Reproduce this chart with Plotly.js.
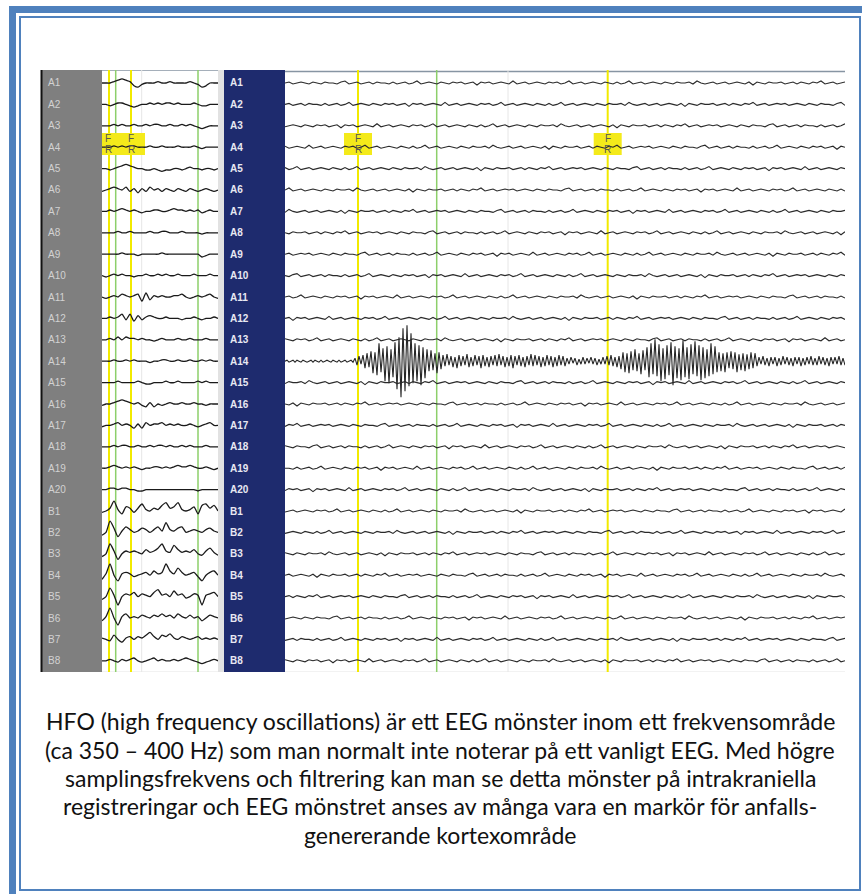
<!DOCTYPE html>
<html><head><meta charset="utf-8">
<script src="https://cdn.plot.ly/plotly-3.0.1.min.js"></script>
<style>html,body{margin:0;padding:0;background:#fff}#chart{width:862px;height:894px}</style>
</head><body><div id="chart"></div>
<script>
// ---- channel names ----
const channels = ['A1','A2','A3','A4','A5','A6','A7','A8','A9','A10','A11','A12','A13','A14','A15','A16','A17','A18','A19','A20','B1','B2','B3','B4','B5','B6','B7','B8'];

// ---- left (overview) panel, A channels, amplitude per sample ----
const leftA = [
 [0,0,0,1,2,3,2,1,-2,-3,-1,0,0,0,1,0,0,1,0,0,0,0,1,0,-1,-3,-2,0,0,0],
 [0,0,-1,0,1,1,0,-1,-2,-1,0,0,1,0,1,0,1,1,0,1,0,0,0,1,0,-1,-1,0,0,0],
 [0,0,0,1,0,1,0,0,1,0,0,1,0,1,1,0,0,1,0,0,1,0,1,0,-1,-2,-1,0,0,0],
 [0,0,0,1,0,1,0,1,1,0,0,0,1,0,0,1,0,0,0,1,0,0,0,1,0,-1,0,0,0,0],
 [0,0,-1,0,1,2,3,2,1,0,0,-1,-1,0,-1,-2,-1,-1,0,0,-1,0,1,0,0,-1,0,0,-1,0],
 [-1,0,1,2,1,0,2,-1,1,-2,1,-1,2,0,1,-1,1,0,-1,1,0,-1,1,0,-1,0,1,0,-1,0],
 [0,0,1,0,1,2,1,0,1,0,-1,0,0,1,1,0,0,1,2,1,1,0,1,0,1,-1,0,1,0,0],
 [0,0,0,0,1,0,0,1,0,0,0,0,1,0,0,1,1,0,0,0,1,0,0,0,0,-1,0,0,0,0],
 [0,0,0,0,0,1,0,0,0,-1,0,0,0,0,0,1,0,0,0,0,0,0,0,0,0,-2,-1,0,0,0],
 [0,-1,0,1,0,1,0,0,-1,0,0,1,0,0,1,0,1,0,0,1,0,0,0,1,0,0,0,1,0,0],
 [0,-1,0,1,0,2,1,0,1,2,-3,3,-2,1,0,1,0,0,1,1,2,0,-1,0,1,0,1,2,0,-1],
 [0,0,1,0,1,3,-1,3,-2,2,-1,1,2,1,0,0,1,0,0,0,-1,0,0,1,0,-1,0,0,1,0],
 [0,0,1,0,2,0,2,1,1,0,1,0,0,-1,0,1,0,0,0,1,0,0,1,0,0,0,1,0,0,0],
 [0,0,0,1,0,0,1,0,1,0,0,0,-1,0,0,1,1,0,0,1,0,0,1,0,0,1,0,1,0,0],
 [0,0,0,0,1,0,0,0,0,1,0,-1,-1,0,0,0,1,0,0,1,0,0,0,0,1,0,1,0,0,0],
 [-1,0,0,1,2,3,2,1,0,1,-1,-2,1,-2,0,-1,0,1,0,0,1,0,0,1,0,0,-1,0,0,0],
 [-1,0,0,1,2,0,1,0,-2,1,-2,2,0,1,1,2,0,1,0,1,0,0,1,0,-1,0,1,2,0,0],
 [0,0,0,1,0,1,1,0,0,1,0,0,1,0,1,1,0,1,0,0,1,0,1,0,0,0,1,0,0,0],
 [0,0,1,2,1,0,1,0,1,0,-1,0,0,1,1,0,1,0,1,2,1,1,2,1,0,0,1,0,-1,0],
 [0,0,1,1,0,1,1,0,0,-1,-1,0,0,0,0,0,0,0,0,0,0,0,0,0,-1,0,0,0,0,0]
];
// ---- left panel, B channels ----
const leftB = [
 [-1,0,2,7,1,-2,3,2,-1,2,5,1,0,2,1,4,6,2,3,6,1,0,1,3,-2,4,5,2,4,0],
 [-2,0,8,3,-3,1,4,2,0,1,3,2,0,2,4,1,7,2,1,3,4,0,1,2,1,0,2,3,1,0],
 [-2,0,7,2,-4,0,2,1,2,1,0,3,1,2,4,7,2,1,6,3,1,2,1,3,0,-1,2,4,1,-1],
 [-3,1,8,0,-4,1,2,1,-1,0,1,2,0,3,1,2,8,3,1,5,2,0,1,2,-1,-4,0,2,3,0],
 [-2,0,6,1,-6,0,2,1,3,0,2,1,0,3,5,1,2,0,4,1,2,-1,0,2,1,-6,1,2,3,0],
 [-2,1,7,0,-5,1,3,0,1,0,2,1,0,2,1,3,1,2,0,3,1,0,2,0,1,-2,0,2,1,0],
 [1,0,-1,3,0,-2,1,2,0,2,1,3,5,2,0,3,2,4,1,0,2,1,0,1,2,0,1,0,1,0],
 [0,0,1,0,-1,1,0,1,2,0,-1,0,1,2,0,1,0,0,1,0,1,2,1,0,-1,-2,-1,0,1,0]
];

// ---- right (expanded) panel background activity ----
const rightNoise = [
 0,1,-1,0,1,0,-1,1,0,-1,
 1,0,0,-1,1,2,-1,0,1,-1,
 0,1,-1,1,0,0,-1,1,-1,0,
 1,-1,0,2,-1,0,1,0,-1,1,
 0,-1,1,0,1,-1,0,1,-2,1,
 0,1,-1,0,1,0,-1,2,-1,0,
 1,-1,0,1,0,-1,1,0,1,-1,
 0,2,-1,0,1,-1,0,1,0,-1,
 1,0,-1,1,-1,0,2,-1,0,1,
 -1,0,1,0,-1,1,0,-1,1,0,
 0,1,-1,2,0,-1,0,1,-1,0,
 1,-1,0,1,0,-1,1,-2,1,0,
 -1,1,0,0,1,-1,0,1,-1,1,
 0,-1,1,0,2,-1,0,1,-1,0,
 1
];
// ---- HFO on A14 (right panel) ----
const hfoA14 = [
 0,1,-1,0,1,-1,1,0,-1,1, 0,-1,0,1,-1,1,0,-1,1,-1, 0,1,0,-1,1,0,-1,1,-1,0, 1,-1,0,1,-1,
 3,-4,5,-3,6,-7,8,-6,
 10,-12,9,-14,18,-11,13,-20,15,-22,12,-16,19,
 -28,24,-36,33,-30,36,-25,28,
 -22,18,-20,16,-24,14,-17,
 12,-10,11,-9,8,-12,9,-8,
 6,-5,7,-4,5,-6,4,-7,6,-5, 5,-4,7,-6,4,-5,6,-4,5,-7, 6,-5,4,-6,5,-4,6,-5,7,-4, 5,-6,4,-5,6,-7,5,-4,6,-5, 4,-6,5,-4,7,-5,6,-4,5,-6, 4,-5,6,-4,5,-6,4,-5,6,-4, 5,-5,
 3,-3,4,-2,3,-4,2,-3,4,-3, 3,-2,4,-3,3,-4,2,-3,4,-3,
 5,-4,6,-5,4,-6,5,
 -8,9,-11,8,-12,10,-9,12,-10,8,-13,11,-9,
 14,-16,18,-13,22,-15,17,-20,13,-18, 16,-14,19,-24,15,-17,13,-19,21,-16, 14,-18,17,-13,20,-15,16,-19,14,-17, 12,-15,18,-13,15,
 -11,9,-10,8,-11,9,-7,10,-8,9, -11,7,-9,8,-10,7,-8,9,-7,8,
 -5,4,-3,5,-4,3,-5,4,-3,4, -5,3,-4,5,-3,4,-4,3,-5,4, -3,4,-5,3,-4,4,-3,5,-4,3, -4,5,-3,4,-4,3,-5,4,-3,4, -3,5,-4,3,-4
];

// ---- event markers (sample positions) ----
const leftYellow = [7, 29];
const leftGreen = [13.7, 96];
const leftGrid = [39.7];
const rightYellow = [73, 322.7];
const rightGreen = [151.7];
const rightGrid = [223];
const leftFR = [6, 29];
const rightFR = [73, 322.7];

// ---- caption ----
const caption = [
 'HFO (high frequency oscillations) är ett EEG mönster inom ett frekvensområde',
 '(ca 350 – 400 Hz) som man normalt inte noterar på ett vanligt EEG. Med högre',
 'samplingsfrekvens och filtrering kan man se detta mönster på intrakraniella',
 'registreringar och EEG mönstret anses av många vara en markör för anfalls-',
 'genererande kortexområde'
];

// ================= drawing =================
const W = 862, H = 894;
const rowPx = 21.4, row0Px = 83;
const X = px => px / W;
const Y = px => 1 - px / H;
const yTop = 1 + (70 - row0Px) / rowPx;
const yBot = 1 + (672 - row0Px) / rowPx;
const leftDt = 4, rightDt = 4, hfoDt = 2;
const leftGain = 1.4;   // display sensitivity of overview panel

const traces = [];
leftA.concat(leftB).forEach((sig, i) => {
  traces.push({type:'scatter', mode:'lines', xaxis:'x', yaxis:'y',
    x: sig.map((_, k) => k * leftDt), y: sig.map(v => i + 1 - v * leftGain / rowPx),
    line:{color:'#1a1a1a', width:1.3, shape:'spline', smoothing:0.6},
    hoverinfo:'skip', showlegend:false});
});
channels.forEach((ch, i) => {
  let xs, ys;
  if (ch === 'A14') {
    xs = hfoA14.map((_, k) => k * hfoDt);
    ys = hfoA14.map(v => i + 1 - v / rowPx);
  } else {
    const n = rightNoise.length, s = (i * 17) % n;
    const sig = rightNoise.map((_, k) => rightNoise[(k + s) % n]);
    xs = sig.map((_, k) => k * rightDt);
    ys = sig.map(v => i + 1 - v / rowPx);
  }
  traces.push({type:'scatter', mode:'lines', xaxis:'x2', yaxis:'y',
    x: xs, y: ys, line:{color: ch === 'A14' ? '#262626' : '#2a2a2a', width: ch === 'A14' ? 1.1 : 1.1},
    hoverinfo:'skip', showlegend:false});
});

const blue = '#4f81bd';
const shapes = [
  // page border
  {type:'rect', xref:'paper', yref:'paper', x0:X(9), x1:X(862), y0:Y(6), y1:Y(13), fillcolor:blue, line:{width:0}},
  {type:'rect', xref:'paper', yref:'paper', x0:X(9), x1:X(16), y0:Y(6), y1:Y(894), fillcolor:blue, line:{width:0}},
  {type:'rect', xref:'paper', yref:'paper', x0:X(20), x1:X(860), y0:Y(17), y1:Y(890), line:{color:blue, width:2}},
  // panels
  {type:'rect', xref:'paper', yref:'y', x0:X(41), x1:X(102), y0:yTop, y1:yBot, fillcolor:'#7f7f7f', line:{width:0}, layer:'below'},
  {type:'line', xref:'paper', yref:'y', x0:X(41.5), x1:X(41.5), y0:yTop, y1:yBot, line:{color:'#111', width:2}, layer:'below'},
  {type:'rect', xref:'paper', yref:'y', x0:X(218), x1:X(224), y0:yTop, y1:yBot, fillcolor:'#e2e2e2', line:{width:0}, layer:'below'},
  {type:'rect', xref:'paper', yref:'y', x0:X(224), x1:X(285), y0:yTop, y1:yBot, fillcolor:'#1e2b6e', line:{width:0}, layer:'below'},
  {type:'line', xref:'paper', yref:'y', x0:X(102), x1:X(218), y0:yTop, y1:yTop, line:{color:'#8795a3', width:1.5}, layer:'below'},
  {type:'line', xref:'paper', yref:'y', x0:X(285), x1:X(845), y0:yTop+0.07, y1:yTop+0.07, line:{color:'#8795a3', width:1.5}, layer:'below'},
  {type:'line', xref:'paper', yref:'y', x0:X(102), x1:X(218), y0:yBot, y1:yBot, line:{color:'#e4e4e4', width:1}, layer:'below'},
  {type:'line', xref:'paper', yref:'y', x0:X(285), x1:X(845), y0:yBot, y1:yBot, line:{color:'#e4e4e4', width:1}, layer:'below'}
];
leftGrid.forEach(v => shapes.push({type:'line', xref:'x', yref:'y', x0:v, x1:v, y0:yTop, y1:yBot, line:{color:'#e6e6e6', width:1}, layer:'below'}));
rightGrid.forEach(v => shapes.push({type:'line', xref:'x2', yref:'y', x0:v, x1:v, y0:yTop, y1:yBot, line:{color:'#e6e6e6', width:1}, layer:'below'}));
leftGreen.forEach(v => shapes.push({type:'line', xref:'x', yref:'y', x0:v, x1:v, y0:yTop, y1:yBot, line:{color:'#8dcf6a', width:1.5}, layer:'below'}));
rightGreen.forEach(v => shapes.push({type:'line', xref:'x2', yref:'y', x0:v, x1:v, y0:yTop, y1:yBot, line:{color:'#8dcf6a', width:1.5}, layer:'below'}));
leftYellow.forEach(v => shapes.push({type:'line', xref:'x', yref:'y', x0:v, x1:v, y0:yTop, y1:yBot, line:{color:'#f2ea00', width:2}, layer:'below'}));
rightYellow.forEach(v => shapes.push({type:'line', xref:'x2', yref:'y', x0:v, x1:v, y0:yTop, y1:yBot, line:{color:'#f2ea00', width:2}, layer:'below'}));
const frTop = 1 + (133 - row0Px) / rowPx, frBot = 1 + (155 - row0Px) / rowPx;
shapes.push({type:'rect', xref:'x', yref:'y', x0:0, x1:43, y0:frTop, y1:frBot, fillcolor:'#f4ea1a', line:{width:0}, layer:'below'});
rightFR.forEach(v => shapes.push({type:'rect', xref:'x2', yref:'y', x0:v-14, x1:v+14, y0:frTop, y1:frBot, fillcolor:'#f4ea1a', line:{width:0}, layer:'below'}));

const annotations = [];
channels.forEach((ch, i) => {
  annotations.push({xref:'paper', yref:'y', x:X(46), y:i+1, text:ch, showarrow:false, xanchor:'left', yanchor:'middle',
    font:{family:'Liberation Sans, Arial', size:10, color:'#d2d2d2'}});
  annotations.push({xref:'paper', yref:'y', x:X(228), y:i+1, text:ch, showarrow:false, xanchor:'left', yanchor:'middle',
    font:{family:'Liberation Sans, Arial', size:10, color:'#e8e8f2', weight:'bold'}});
});
const fY = 1 + (139 - row0Px) / rowPx, rY = 1 + (150 - row0Px) / rowPx;
const frFont = {family:'Liberation Sans, Arial', size:10, color:'#555'};
leftFR.forEach(v => {
  annotations.push({xref:'x', yref:'y', x:v, y:fY, text:'F', showarrow:false, font:frFont});
  annotations.push({xref:'x', yref:'y', x:v, y:rY, text:'R', showarrow:false, font:frFont});
});
rightFR.forEach(v => {
  annotations.push({xref:'x2', yref:'y', x:v, y:fY, text:'F', showarrow:false, font:frFont});
  annotations.push({xref:'x2', yref:'y', x:v, y:rY, text:'R', showarrow:false, font:frFont});
});
const capY = [721, 749.5, 778, 806, 834.5];
caption.forEach((t, i) => {
  annotations.push({xref:'paper', yref:'paper', x:X(440), y:Y(capY[i]), text:t, showarrow:false, xanchor:'center', yanchor:'middle',
    font:{family:'Lato, Open Sans, sans-serif', size:23, color:'#111'}});
});

const layout = {
  width: W, height: H, margin:{l:0, r:0, t:0, b:0},
  paper_bgcolor:'#ffffff', plot_bgcolor:'rgba(0,0,0,0)', showlegend:false,
  xaxis:{domain:[X(102), X(218)], range:[0, 116], visible:false, fixedrange:true},
  xaxis2:{domain:[X(285), X(845)], range:[0, 560], visible:false, fixedrange:true},
  yaxis:{domain:[Y(672), Y(70)], range:[yBot, yTop], visible:false, fixedrange:true},
  shapes, annotations
};
Plotly.newPlot('chart', traces, layout, {staticPlot:true, displayModeBar:false});
</script></body></html>
